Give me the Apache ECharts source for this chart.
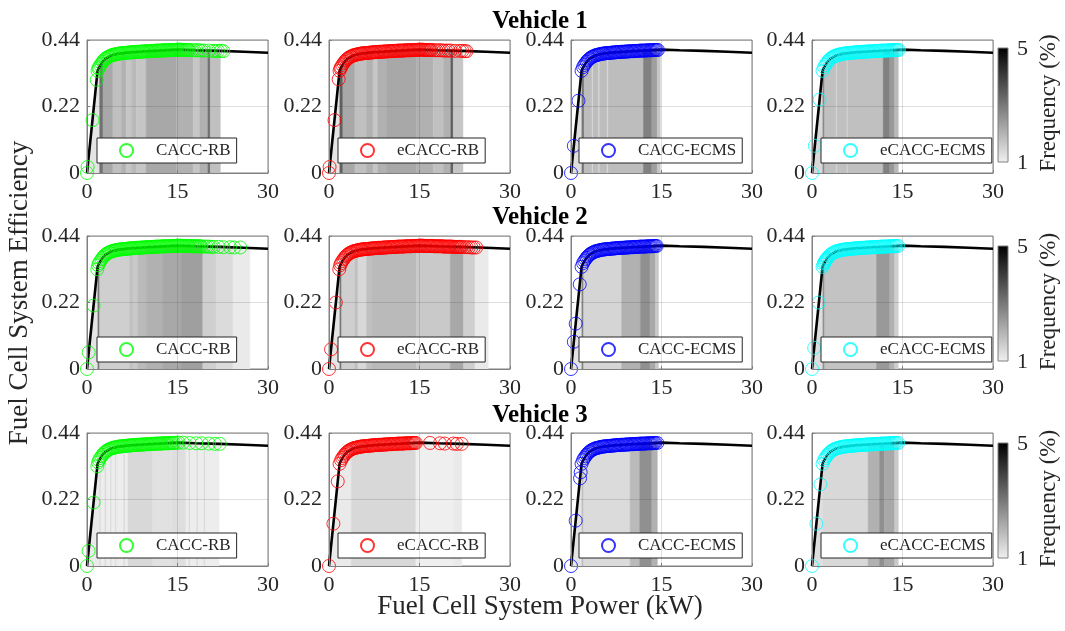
<!DOCTYPE html>
<html><head><meta charset="utf-8">
<script src="https://cdn.jsdelivr.net/npm/echarts@6/dist/echarts.min.js"></script>
<style>html,body{margin:0;padding:0;background:#fff}#c{width:1065px;height:631px}</style>
</head><body><div id="c"></div>
<script>
// ---------- data ----------
const xTicks = [0, 15, 30];
const yTicks = [0, 0.22, 0.44];
const vehicleTitles = ['Vehicle 1', 'Vehicle 2', 'Vehicle 3'];
const strategyNames = ['CACC-RB', 'eCACC-RB', 'CACC-ECMS', 'eCACC-ECMS'];
const strategyColors = ['#00ff00', '#ff0000', '#0000ff', '#00ffff'];
const freqRange = [1, 5];

// fuel cell system efficiency map (power kW, efficiency)
const effCurve = [[0,0],[1.75,0.338],[2.0,0.350],[2.5,0.366],[3.0,0.377],[4.0,0.389],[5.0,0.394],[7.0,0.399],[10,0.403],[12,0.405],[15,0.408],[18,0.406],[22,0.404],[26,0.401],[30,0.398]];

// operating points [power kW, efficiency]
const v1CaccRb = [[0,0],[0.1,0.02],[0.91,0.175],[1.6,0.308],[1.75,0.338],[1.9,.346],[2.0,.350],[2.2,.357],[2.4,.363],[2.6,.368],[2.8,.373],[3.0,.377],[3.2,.380],[3.4,.383],[3.6,.385],[3.8,.387],[4.0,.389],[4.2,.390],[4.4,.391],[4.6,.392],[4.8,.393],[5.0,.394],[5.2,.395],[5.4,.395],[5.6,.396],[5.8,.396],[6.0,.397],[6.2,.397],[6.4,.397],[6.6,.398],[6.8,.398],[7.0,.399],[7.2,.399],[7.4,.399],[7.6,.400],[7.8,.400],[8.0,.400],[8.2,.401],[8.4,.401],[8.6,.401],[8.8,.401],[9.0,.402],[9.2,.402],[9.4,.402],[9.6,.402],[9.8,.403],[10.0,.403],[10.2,.403],[10.4,.403],[10.6,.404],[10.8,.404],[11.0,.404],[11.2,.404],[11.4,.405],[11.6,.405],[11.8,.405],[12.0,.405],[12.2,.405],[12.4,.405],[12.6,.406],[12.8,.406],[13.0,.406],[13.2,.406],[13.4,.406],[13.6,.406],[13.8,.407],[14.0,.407],[14.2,.407],[14.4,.407],[14.6,.407],[14.8,.408],[15.0,.408],[15.2,.408],[15.4,.408],[15.6,.408],[15.8,.407],[16.0,.407],[16.2,.407],[16.4,.407],[16.6,.407],[16.8,.407],[17.0,.407],[17.4,.406],[17.8,.406],[18.2,.406],[18.6,.406],[19.0,.405],[19.4,.405],[20.2,.405],[20.9,.404],[21.3,.404],[21.7,.404],[22.2,.404],[22.6,.403]];
const v1eCaccRb = [[0,0],[0.1,0.02],[0.91,0.175],[1.6,0.31],[1.75,0.338],[1.9,.346],[2.0,.350],[2.2,.357],[2.4,.363],[2.6,.368],[2.8,.373],[3.0,.377],[3.2,.380],[3.4,.383],[3.6,.385],[3.8,.387],[4.0,.389],[4.2,.390],[4.4,.391],[4.6,.392],[4.8,.393],[5.0,.394],[5.2,.395],[5.4,.395],[5.6,.396],[5.8,.396],[6.0,.397],[6.2,.397],[6.4,.397],[6.6,.398],[6.8,.398],[7.0,.399],[7.2,.399],[7.4,.399],[7.6,.400],[7.8,.400],[8.0,.400],[8.2,.401],[8.4,.401],[8.6,.401],[8.8,.401],[9.0,.402],[9.2,.402],[9.4,.402],[9.6,.402],[9.8,.403],[10.0,.403],[10.2,.403],[10.4,.403],[10.6,.404],[10.8,.404],[11.0,.404],[11.2,.404],[11.4,.405],[11.6,.405],[11.8,.405],[12.0,.405],[12.2,.405],[12.4,.405],[12.6,.406],[12.8,.406],[13.0,.406],[13.2,.406],[13.4,.406],[13.6,.406],[13.8,.407],[14.0,.407],[14.2,.407],[14.4,.407],[14.6,.407],[14.8,.408],[15.0,.408],[15.2,.408],[15.4,.408],[15.6,.408],[15.8,.407],[16.0,.407],[16.2,.407],[16.4,.407],[16.6,.407],[16.8,.407],[17.0,.407],[17.4,.406],[17.8,.406],[18.2,.406],[18.6,.406],[19.0,.405],[19.4,.405],[19.8,.405],[20.2,.405],[20.9,.404],[21.7,.404],[22.1,.404],[22.5,.403],[22.8,.403]];
const v1CaccEcms = [[0,0],[0.47,0.09],[1.24,0.239],[1.75,0.338],[2.0,.350],[2.2,.357],[2.4,.363],[2.6,.368],[2.8,.373],[3.0,.377],[3.2,.380],[3.4,.383],[3.6,.385],[3.8,.387],[4.0,.389],[4.2,.390],[4.4,.391],[4.6,.392],[4.8,.393],[5.0,.394],[5.2,.395],[5.4,.395],[5.6,.396],[5.8,.396],[6.0,.397],[6.2,.397],[6.4,.397],[6.6,.398],[6.8,.398],[7.0,.399],[7.2,.399],[7.4,.399],[7.6,.400],[7.8,.400],[8.0,.400],[8.2,.401],[8.4,.401],[8.6,.401],[8.8,.401],[9.0,.402],[9.2,.402],[9.4,.402],[9.6,.402],[9.8,.403],[10.0,.403],[10.2,.403],[10.4,.403],[10.6,.404],[10.8,.404],[11.0,.404],[11.2,.404],[11.4,.405],[11.6,.405],[11.8,.405],[12.0,.405],[12.2,.405],[12.4,.405],[12.6,.406],[12.8,.406],[13.0,.406],[13.2,.406],[13.4,.406],[13.6,.406],[13.8,.407],[14.0,.407],[14.2,.407],[14.4,.407]];
const v1eCaccEcms = [[0,0],[0.47,0.09],[1.26,0.243],[1.75,0.338],[2.0,.350],[2.2,.357],[2.4,.363],[2.6,.368],[2.8,.373],[3.0,.377],[3.2,.380],[3.4,.383],[3.6,.385],[3.8,.387],[4.0,.389],[4.2,.390],[4.4,.391],[4.6,.392],[4.8,.393],[5.0,.394],[5.2,.395],[5.4,.395],[5.6,.396],[5.8,.396],[6.0,.397],[6.2,.397],[6.4,.397],[6.6,.398],[6.8,.398],[7.0,.399],[7.2,.399],[7.4,.399],[7.6,.400],[7.8,.400],[8.0,.400],[8.2,.401],[8.4,.401],[8.6,.401],[8.8,.401],[9.0,.402],[9.2,.402],[9.4,.402],[9.6,.402],[9.8,.403],[10.0,.403],[10.2,.403],[10.4,.403],[10.6,.404],[10.8,.404],[11.0,.404],[11.2,.404],[11.4,.405],[11.6,.405],[11.8,.405],[12.0,.405],[12.2,.405],[12.4,.405],[12.6,.406],[12.8,.406],[13.0,.406],[13.2,.406],[13.4,.406],[13.6,.406],[13.8,.407],[14.0,.407],[14.2,.407],[14.4,.407]];
const v2CaccRb = [[0,0],[0.28,0.055],[1.09,0.21],[1.71,0.33],[1.85,.343],[2.0,.350],[2.2,.357],[2.4,.363],[2.6,.368],[2.8,.373],[3.0,.377],[3.2,.380],[3.4,.383],[3.6,.385],[3.8,.387],[4.0,.389],[4.2,.390],[4.4,.391],[4.6,.392],[4.8,.393],[5.0,.394],[5.2,.395],[5.4,.395],[5.6,.396],[5.8,.396],[6.0,.397],[6.2,.397],[6.4,.397],[6.6,.398],[6.8,.398],[7.0,.399],[7.2,.399],[7.4,.399],[7.6,.400],[7.8,.400],[8.0,.400],[8.2,.401],[8.4,.401],[8.6,.401],[8.8,.401],[9.0,.402],[9.2,.402],[9.4,.402],[9.6,.402],[9.8,.403],[10.0,.403],[10.2,.403],[10.4,.403],[10.6,.404],[10.8,.404],[11.0,.404],[11.2,.404],[11.4,.405],[11.6,.405],[11.8,.405],[12.0,.405],[12.2,.405],[12.4,.405],[12.6,.406],[12.8,.406],[13.0,.406],[13.2,.406],[13.4,.406],[13.6,.406],[13.8,.407],[14.0,.407],[14.2,.407],[14.4,.407],[14.6,.407],[14.8,.408],[15.0,.408],[15.2,.408],[15.4,.408],[15.6,.408],[15.8,.407],[16.0,.407],[16.2,.407],[16.4,.407],[16.6,.407],[16.8,.407],[17.0,.407],[17.2,.407],[17.4,.406],[17.6,.406],[17.8,.406],[18.0,.406],[18.2,.406],[18.4,.406],[18.6,.406],[18.8,.406],[19.0,.405],[19.4,.405],[19.8,.405],[20.2,.405],[20.6,.404],[21.0,.404],[21.8,.404],[22.6,.403],[23.7,.403],[24.4,.402],[25.4,.402]];
const v2eCaccRb = [[0,0],[0.34,0.065],[1.14,0.22],[1.7,0.33],[1.85,.343],[2.0,.350],[2.2,.357],[2.4,.363],[2.6,.368],[2.8,.373],[3.0,.377],[3.2,.380],[3.4,.383],[3.6,.385],[3.8,.387],[4.0,.389],[4.2,.390],[4.4,.391],[4.6,.392],[4.8,.393],[5.0,.394],[5.2,.395],[5.4,.395],[5.6,.396],[5.8,.396],[6.0,.397],[6.2,.397],[6.4,.397],[6.6,.398],[6.8,.398],[7.0,.399],[7.2,.399],[7.4,.399],[7.6,.400],[7.8,.400],[8.0,.400],[8.2,.401],[8.4,.401],[8.6,.401],[8.8,.401],[9.0,.402],[9.2,.402],[9.4,.402],[9.6,.402],[9.8,.403],[10.0,.403],[10.2,.403],[10.4,.403],[10.6,.404],[10.8,.404],[11.0,.404],[11.2,.404],[11.4,.405],[11.6,.405],[11.8,.405],[12.0,.405],[12.2,.405],[12.4,.405],[12.6,.406],[12.8,.406],[13.0,.406],[13.2,.406],[13.4,.406],[13.6,.406],[13.8,.407],[14.0,.407],[14.2,.407],[14.4,.407],[14.6,.407],[14.8,.408],[15.0,.408],[15.2,.408],[15.4,.408],[15.6,.408],[15.8,.407],[16.0,.407],[16.2,.407],[16.4,.407],[16.6,.407],[16.8,.407],[17.0,.407],[17.2,.407],[17.4,.406],[17.6,.406],[17.8,.406],[18.0,.406],[18.2,.406],[18.4,.406],[18.6,.406],[18.8,.406],[19.0,.405],[19.2,.405],[19.4,.405],[19.6,.405],[19.8,.405],[20.0,.405],[20.2,.405],[20.4,.405],[20.6,.404],[20.8,.404],[21.0,.404],[21.2,.404],[21.4,.404],[21.6,.404],[21.8,.404],[22.0,.404],[22.4,.403],[22.8,.403],[23.2,.403],[23.6,.402],[24.0,.402],[24.4,.402]];
const v2CaccEcms = [[0,0],[0.47,0.09],[0.78,0.15],[1.45,0.28],[1.75,0.338],[2.0,.350],[2.2,.357],[2.4,.363],[2.6,.368],[2.8,.373],[3.0,.377],[3.2,.380],[3.4,.383],[3.6,.385],[3.8,.387],[4.0,.389],[4.2,.390],[4.4,.391],[4.6,.392],[4.8,.393],[5.0,.394],[5.2,.395],[5.4,.395],[5.6,.396],[5.8,.396],[6.0,.397],[6.2,.397],[6.4,.397],[6.6,.398],[6.8,.398],[7.0,.399],[7.2,.399],[7.4,.399],[7.6,.400],[7.8,.400],[8.0,.400],[8.2,.401],[8.4,.401],[8.6,.401],[8.8,.401],[9.0,.402],[9.2,.402],[9.4,.402],[9.6,.402],[9.8,.403],[10.0,.403],[10.2,.403],[10.4,.403],[10.6,.404],[10.8,.404],[11.0,.404],[11.2,.404],[11.4,.405],[11.6,.405],[11.8,.405],[12.0,.405],[12.2,.405],[12.4,.405],[12.6,.406],[12.8,.406],[13.0,.406],[13.2,.406],[13.4,.406],[13.6,.406],[13.8,.407],[14.0,.407],[14.2,.407]];
const v2eCaccEcms = [[0,0],[0.36,0.07],[1.14,0.22],[1.75,0.338],[1.9,.345],[2.0,.350],[2.1,.353],[2.2,.357],[2.3,.360],[2.4,.363],[2.5,.366],[2.6,.368],[2.8,.373],[3.0,.377],[3.2,.380],[3.4,.383],[3.6,.385],[3.8,.387],[4.0,.389],[4.2,.390],[4.4,.391],[4.6,.392],[4.8,.393],[5.0,.394],[5.2,.395],[5.4,.395],[5.6,.396],[5.8,.396],[6.0,.397],[6.2,.397],[6.4,.397],[6.6,.398],[6.8,.398],[7.0,.399],[7.2,.399],[7.4,.399],[7.6,.400],[7.8,.400],[8.0,.400],[8.2,.401],[8.4,.401],[8.6,.401],[8.8,.401],[9.0,.402],[9.2,.402],[9.4,.402],[9.6,.402],[9.8,.403],[10.0,.403],[10.2,.403],[10.4,.403],[10.6,.404],[10.8,.404],[11.0,.404],[11.2,.404],[11.4,.405],[11.6,.405],[11.8,.405],[12.0,.405],[12.2,.405],[12.4,.405],[12.6,.406],[12.8,.406],[13.0,.406],[13.2,.406],[13.4,.406],[13.6,.406],[13.8,.407],[14.0,.407],[14.3,.407]];
const v3CaccRb = [[0,0],[0.26,0.05],[1.09,0.21],[1.71,0.33],[1.85,.343],[2.0,.350],[2.2,.357],[2.4,.363],[2.6,.368],[2.8,.373],[3.0,.377],[3.2,.380],[3.4,.383],[3.6,.385],[3.8,.387],[4.0,.389],[4.2,.390],[4.4,.391],[4.6,.392],[4.8,.393],[5.0,.394],[5.2,.395],[5.4,.395],[5.6,.396],[5.8,.396],[6.0,.397],[6.2,.397],[6.4,.397],[6.6,.398],[6.8,.398],[7.0,.399],[7.2,.399],[7.4,.399],[7.6,.400],[7.8,.400],[8.0,.400],[8.2,.401],[8.4,.401],[8.6,.401],[8.8,.401],[9.0,.402],[9.2,.402],[9.4,.402],[9.6,.402],[9.8,.403],[10.0,.403],[10.2,.403],[10.4,.403],[10.6,.404],[10.8,.404],[11.0,.404],[11.2,.404],[11.4,.405],[11.6,.405],[11.8,.405],[12.0,.405],[12.2,.405],[12.4,.405],[12.6,.406],[12.8,.406],[13.0,.406],[13.2,.406],[13.4,.406],[13.6,.406],[13.8,.407],[14.0,.407],[14.2,.407],[14.4,.407],[14.8,.408],[15.2,.408],[15.9,.408],[17.0,.407],[18.1,.406],[19.0,.406],[20.2,.405],[21.2,.404],[22.0,.404]];
const v3eCaccRb = [[0,0],[0.73,0.14],[1.45,0.28],[1.75,0.338],[2.0,.350],[2.2,.357],[2.4,.363],[2.6,.368],[2.8,.373],[3.0,.377],[3.2,.380],[3.4,.383],[3.6,.385],[3.8,.387],[4.0,.389],[4.2,.390],[4.4,.391],[4.6,.392],[4.8,.393],[5.0,.394],[5.2,.395],[5.4,.395],[5.6,.396],[5.8,.396],[6.0,.397],[6.2,.397],[6.4,.397],[6.6,.398],[6.8,.398],[7.0,.399],[7.2,.399],[7.4,.399],[7.6,.400],[7.8,.400],[8.0,.400],[8.2,.401],[8.4,.401],[8.6,.401],[8.8,.401],[9.0,.402],[9.2,.402],[9.4,.402],[9.6,.402],[9.8,.403],[10.0,.403],[10.2,.403],[10.4,.403],[10.6,.404],[10.8,.404],[11.0,.404],[11.2,.404],[11.4,.405],[11.6,.405],[11.8,.405],[12.0,.405],[12.2,.405],[12.4,.405],[12.6,.406],[12.8,.406],[13.0,.406],[13.2,.406],[13.4,.406],[13.6,.406],[13.8,.407],[14.0,.407],[14.2,.407],[14.4,.407],[16.75,.407],[18.4,.406],[19.2,.405],[20.6,.405],[21.2,.404],[22.0,.404]];
const v3CaccEcms = [[0,0],[0.78,0.15],[1.5,0.29],[1.6,0.31],[1.75,0.338],[2.0,.350],[2.2,.357],[2.4,.363],[2.6,.368],[2.8,.373],[3.0,.377],[3.2,.380],[3.4,.383],[3.6,.385],[3.8,.387],[4.0,.389],[4.2,.390],[4.4,.391],[4.6,.392],[4.8,.393],[5.0,.394],[5.2,.395],[5.4,.395],[5.6,.396],[5.8,.396],[6.0,.397],[6.2,.397],[6.4,.397],[6.6,.398],[6.8,.398],[7.0,.399],[7.2,.399],[7.4,.399],[7.6,.400],[7.8,.400],[8.0,.400],[8.2,.401],[8.4,.401],[8.6,.401],[8.8,.401],[9.0,.402],[9.2,.402],[9.4,.402],[9.6,.402],[9.8,.403],[10.0,.403],[10.2,.403],[10.4,.403],[10.6,.404],[10.8,.404],[11.0,.404],[11.2,.404],[11.4,.405],[11.6,.405],[11.8,.405],[12.0,.405],[12.2,.405],[12.4,.405],[12.6,.406],[12.8,.406],[13.0,.406],[13.2,.406],[13.4,.406],[13.6,.406],[13.8,.407],[14.0,.407],[14.3,.407]];
const v3eCaccEcms = [[0,0],[0.73,0.14],[1.4,0.27],[1.75,0.338],[2.0,.350],[2.2,.357],[2.4,.363],[2.6,.368],[2.8,.373],[3.0,.377],[3.2,.380],[3.4,.383],[3.6,.385],[3.8,.387],[4.0,.389],[4.2,.390],[4.4,.391],[4.6,.392],[4.8,.393],[5.0,.394],[5.2,.395],[5.4,.395],[5.6,.396],[5.8,.396],[6.0,.397],[6.2,.397],[6.4,.397],[6.6,.398],[6.8,.398],[7.0,.399],[7.2,.399],[7.4,.399],[7.6,.400],[7.8,.400],[8.0,.400],[8.2,.401],[8.4,.401],[8.6,.401],[8.8,.401],[9.0,.402],[9.2,.402],[9.4,.402],[9.6,.402],[9.8,.403],[10.0,.403],[10.2,.403],[10.4,.403],[10.6,.404],[10.8,.404],[11.0,.404],[11.2,.404],[11.4,.405],[11.6,.405],[11.8,.405],[12.0,.405],[12.2,.405],[12.4,.405],[12.6,.406],[12.8,.406],[13.0,.406],[13.2,.406],[13.4,.406],[13.6,.406],[13.8,.407],[14.0,.407],[14.3,.407]];

// frequency of power bins [from kW, to kW, frequency %]
const v1CaccRbFreq = [[0,2.1,1.2],[2.1,2.65,3.1],[2.65,4.3,2.2],[4.3,5.7,1.8],[5.7,6.5,2.05],[6.5,7.35,1.7],[7.35,8.2,1.9],[8.2,9.8,1.7],[9.8,14.8,2.2],[14.8,17.6,2.05],[17.6,18.7,1.7],[18.7,20.05,2.05],[20.05,20.45,3.1],[20.45,22.1,1.8]];
const v1eCaccRbFreq = [[0,1.8,1.2],[1.8,2.3,3.4],[2.3,4.3,2.2],[4.3,6.2,1.8],[6.2,7.3,2.05],[7.3,8.1,1.7],[8.1,9.6,2.05],[9.6,14.5,2.2],[14.5,17.3,2.05],[17.3,19.0,1.8],[19.0,20.2,2.05],[20.2,20.6,3.4],[20.6,22.2,1.7]];
const v1CaccEcmsFreq = [[0,1.8,1.3],[1.8,2.2,3.0],[2.2,3.5,1.85],[3.5,3.65,1.3],[3.65,4.6,1.85],[4.6,4.75,1.3],[4.75,6.0,1.85],[6.0,6.15,1.3],[6.15,12.0,1.85],[12.0,13.4,2.85],[13.4,14.3,2.35],[14.3,14.8,1.7]];
const v1eCaccEcmsFreq = [[0,1.8,1.4],[1.8,2.1,2.7],[2.1,4.0,1.8],[4.0,4.15,1.4],[4.15,5.8,1.8],[5.8,5.95,1.4],[5.95,11.8,1.8],[11.8,12.9,2.85],[12.9,13.7,2.45],[13.7,14.3,1.9]];
const v2CaccRbFreq = [[0,1.8,1.2],[1.8,2.1,3.0],[2.1,7.1,1.55],[7.1,7.6,1.8],[7.6,8.4,1.65],[8.4,9.8,1.9],[9.8,12.6,2.05],[12.6,15.6,2.2],[15.6,19.2,2.35],[19.2,21.4,1.55],[21.4,24.2,1.35],[24.2,27.0,1.1]];
const v2eCaccRbFreq = [[0,1.8,1.2],[1.8,2.1,3.0],[2.1,4.3,1.55],[4.3,4.8,1.8],[4.8,6.2,1.4],[6.2,7.1,1.8],[7.1,14.5,1.9],[14.5,20.1,1.65],[20.1,22.3,2.2],[22.3,24.2,1.55],[24.2,26.4,1.1]];
const v2CaccEcmsFreq = [[0,1.8,1.2],[1.8,2.1,2.8],[2.1,8.4,1.45],[8.4,11.5,2.05],[11.5,13.1,2.6],[13.1,14.0,2.2],[14.0,14.5,1.65]];
const v2eCaccEcmsFreq = [[0,1.8,1.3],[1.8,2.1,2.6],[2.1,10.7,1.75],[10.7,12.9,2.45],[12.9,13.7,2.05],[13.7,14.3,1.55]];
const v3CaccRbFreq = [[0,2.1,1.1],[2.1,2.3,1.4],[2.3,3.0,1.05],[3.0,3.2,1.4],[3.2,3.9,1.05],[3.9,4.1,1.4],[4.1,4.7,1.05],[4.7,4.9,1.4],[4.9,6.1,1.05],[6.1,6.3,1.4],[6.3,6.8,1.05],[6.8,10.9,1.4],[10.9,14.2,1.25],[14.2,16.4,1.3],[16.4,16.9,1.05],[16.9,17.1,1.4],[17.1,18.2,1.05],[18.2,18.4,1.4],[18.4,19.4,1.05],[19.4,19.6,1.4],[19.6,21.9,1.05]];
const v3eCaccRbFreq = [[0,2.1,1.1],[2.1,3.7,1.1],[3.7,14.4,1.4],[14.4,20.6,1.02],[20.6,22.0,1.1]];
const v3CaccEcmsFreq = [[0,1.8,1.2],[1.8,2.1,1.8],[2.1,9.8,1.35],[9.8,11.4,1.9],[11.4,13.4,2.6],[13.4,14.3,2.05]];
const v3eCaccEcmsFreq = [[0,1.8,1.3],[1.8,9.3,1.4],[9.3,11.2,2.05],[11.2,12.0,2.6],[12.0,13.7,2.2],[13.7,14.3,1.65]];

const points = [
  [v1CaccRb, v1eCaccRb, v1CaccEcms, v1eCaccEcms],
  [v2CaccRb, v2eCaccRb, v2CaccEcms, v2eCaccEcms],
  [v3CaccRb, v3eCaccRb, v3CaccEcms, v3eCaccEcms]
];
const freqs = [
  [v1CaccRbFreq, v1eCaccRbFreq, v1CaccEcmsFreq, v1eCaccEcmsFreq],
  [v2CaccRbFreq, v2eCaccRbFreq, v2CaccEcmsFreq, v2eCaccEcmsFreq],
  [v3CaccRbFreq, v3eCaccRbFreq, v3CaccEcmsFreq, v3eCaccEcmsFreq]
];

// ---------- layout ----------
const FONT = '"Liberation Serif","Times New Roman",serif';
const TXT = '#262626';
const AX = '#808080';
const gridLeft = [87, 329, 571, 812], gridW = 181;
const gridTop = [40, 236, 433], gridH = 133;
const legendLeft = [97, 338, 579, 821];
const legendTop = [138, 337, 533];
const cbar = [[48, 114], [246, 115], [443, 115]];

function greyOf(f) {
  const t = Math.max(0, Math.min(1, (f - freqRange[0]) / (freqRange[1] - freqRange[0])));
  const g = Math.round(240 * (1 - t));
  return 'rgb(' + g + ',' + g + ',' + g + ')';
}
function effAt(x) {
  for (let i = 1; i < effCurve.length; i++) {
    if (x <= effCurve[i][0]) {
      const a = effCurve[i - 1], b = effCurve[i];
      return a[1] + (b[1] - a[1]) * (x - a[0]) / (b[0] - a[0]);
    }
  }
  return effCurve[effCurve.length - 1][1];
}
function renderStripe(params, api) {
  const x0 = api.value(0), x1 = api.value(1), f = api.value(2);
  const pts = [api.coord([x0, 0]), api.coord([x0, effAt(x0)])];
  effCurve.forEach(p => { if (p[0] > x0 && p[0] < x1) pts.push(api.coord(p)); });
  pts.push(api.coord([x1, effAt(x1)]), api.coord([x1, 0]));
  const c = greyOf(f);
  return { type: 'polygon', shape: { points: pts }, style: { fill: c, stroke: c, lineWidth: 0.5 } };
}

const grids = [], xAxes = [], yAxes = [], series = [], legends = [], graphics = [];
for (let r = 0; r < 3; r++) {
  for (let c = 0; c < 4; c++) {
    const k = r * 4 + c;
    grids.push({ left: gridLeft[c], top: gridTop[r], width: gridW, height: gridH, show: true, borderColor: AX, borderWidth: 1, backgroundColor: 'rgba(0,0,0,0)' });
    xAxes.push({ gridIndex: k, type: 'value', min: xTicks[0], max: xTicks[2], interval: xTicks[1] - xTicks[0], z: 4,
      axisLine: { show: true, onZero: false, lineStyle: { color: AX, width: 1 } },
      axisTick: { show: true, inside: true, length: 3, lineStyle: { color: AX } },
      axisLabel: { margin: 8, fontSize: 22, fontFamily: FONT, color: TXT },
      splitLine: { show: true, lineStyle: { color: 'rgba(38,38,38,0.15)', width: 1 } } });
    yAxes.push({ gridIndex: k, type: 'value', min: yTicks[0], max: yTicks[2], interval: yTicks[1] - yTicks[0], z: 4,
      axisLine: { show: true, onZero: false, lineStyle: { color: AX, width: 1 } },
      axisTick: { show: true, inside: true, length: 3, lineStyle: { color: AX } },
      axisLabel: { margin: 7, fontSize: 22, fontFamily: FONT, color: TXT, formatter: v => (v === 0 ? '0' : v.toFixed(2)) },
      splitLine: { show: true, lineStyle: { color: 'rgba(38,38,38,0.15)', width: 1 } } });
    series.push({ type: 'custom', xAxisIndex: k, yAxisIndex: k, renderItem: renderStripe, data: freqs[r][c], encode: { x: [0, 1] }, z: 1, silent: true, clip: true });
    series.push({ type: 'line', xAxisIndex: k, yAxisIndex: k, data: effCurve, showSymbol: false, symbol: 'none', lineStyle: { color: '#000', width: 2.6 }, z: 2, silent: true });
    series.push({ type: 'scatter', name: strategyNames[c], xAxisIndex: k, yAxisIndex: k, data: points[r][c], symbol: 'circle', symbolSize: 13,
      itemStyle: { color: 'rgba(0,0,0,0)', borderColor: strategyColors[c], borderWidth: 1 }, z: 3, silent: true });
    legends.push({ data: [strategyNames[c]], left: legendLeft[c], top: legendTop[r], orient: 'horizontal', selectedMode: false,
      icon: 'circle', itemWidth: 13, itemHeight: 13, padding: [4, 6, 4, 22], backgroundColor: '#fff', borderColor: TXT, borderWidth: 1, borderRadius: 0,
      textStyle: { fontSize: 17, fontFamily: FONT, color: TXT, padding: [0, 0, 0, 18] } });
  }
  // colorbar for the row
  const [cy, ch] = cbar[r];
  graphics.push({ type: 'rect', shape: { x: 998, y: cy, width: 10, height: ch }, z: 10,
    style: { fill: new echarts.graphic.LinearGradient(0, 0, 0, 1, [{ offset: 0, color: greyOf(freqRange[1]) }, { offset: 1, color: greyOf(freqRange[0]) }]), stroke: AX, lineWidth: 1 } });
  graphics.push({ type: 'text', x: 1017, y: cy + 1, z: 10, style: { text: String(freqRange[1]), font: '22px ' + FONT, fill: TXT, align: 'left', verticalAlign: 'middle', textAlign: 'left', textVerticalAlign: 'middle' } });
  graphics.push({ type: 'text', x: 1017, y: cy + ch + 1, z: 10, style: { text: String(freqRange[0]), font: '22px ' + FONT, fill: TXT, align: 'left', verticalAlign: 'middle', textAlign: 'left', textVerticalAlign: 'middle' } });
  graphics.push({ type: 'text', x: 1049, y: cy + ch / 2 - 2, rotation: Math.PI / 2, z: 10, style: { text: 'Frequency (%)', font: '23px ' + FONT, fill: TXT, align: 'center', verticalAlign: 'middle', textAlign: 'center', textVerticalAlign: 'middle' } });
  // row title
  graphics.push({ type: 'text', x: 540, y: [22, 218, 416][r], z: 10, style: { text: vehicleTitles[r], font: 'bold 25px ' + FONT, fill: '#000', align: 'center', verticalAlign: 'middle', textAlign: 'center', textVerticalAlign: 'middle' } });
}
graphics.push({ type: 'text', x: 20, y: 293, rotation: Math.PI / 2, z: 10, style: { text: 'Fuel Cell System Efficiency', font: '27px ' + FONT, fill: TXT, align: 'center', verticalAlign: 'middle', textAlign: 'center', textVerticalAlign: 'middle' } });
graphics.push({ type: 'text', x: 540, y: 607, z: 10, style: { text: 'Fuel Cell System Power (kW)', font: '27px ' + FONT, fill: TXT, align: 'center', verticalAlign: 'middle', textAlign: 'center', textVerticalAlign: 'middle' } });

const chart = echarts.init(document.getElementById('c'), null, { renderer: 'canvas', width: 1065, height: 631 });
chart.setOption({
  animation: false,
  backgroundColor: '#fff',
  grid: grids, xAxis: xAxes, yAxis: yAxes, series: series, legend: legends, graphic: graphics
});
</script></body></html>
